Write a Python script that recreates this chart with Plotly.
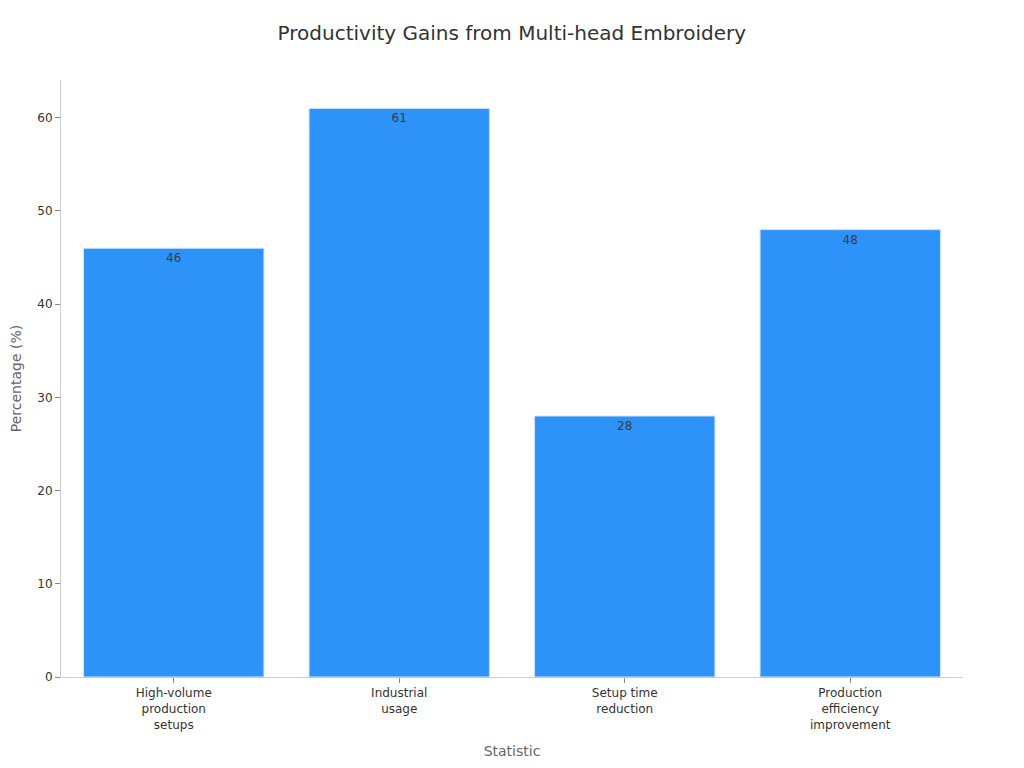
import plotly.graph_objects as go

categories = ["High-volume<br>production<br>setups", "Industrial<br>usage", "Setup time<br>reduction", "Production<br>efficiency<br>improvement"]
values = [46, 61, 28, 48]
labels = ["46", "61", "28", "48"]

fig = go.Figure(go.Bar(
    x=categories, y=values, text=labels,
    textposition="inside", insidetextanchor="end",
    textfont=dict(color="#3a3a3a", size=12, family="DejaVu Sans"),
    marker=dict(color="#2E93F9", line=dict(color="#cfe3fb", width=1)),
    width=0.8,
))

fig.update_layout(
    width=1024, height=768,
    margin=dict(l=53, r=69, t=72, b=99),
    paper_bgcolor="white", plot_bgcolor="white",
    font=dict(family="DejaVu Sans", color="#333333"),
    title=dict(text="Productivity Gains from Multi-head Embroidery", x=0.492, xanchor="center",
               y=0.9674, yanchor="middle", font=dict(size=20, color="#333333")),
    showlegend=False,
    bargap=0.2,
)
fig.update_xaxes(
    title=dict(text="Statistic", font=dict(size=14, color="#666666"), standoff=15),
    showline=True, linecolor="#cccccc", ticks="outside", ticklen=5, tickcolor="#888888",
    tickfont=dict(size=12, color="#333333"), showgrid=False, automargin=False,
)
fig.update_yaxes(
    title=dict(text="Percentage (%)", font=dict(size=14, color="#666666"), standoff=15),
    range=[0, 64.05], dtick=10,
    showline=True, linecolor="#cccccc", ticks="outside", ticklen=5, tickcolor="#888888",
    tickfont=dict(size=12, color="#333333"), showgrid=False, zeroline=False, automargin=False,
)

fig.write_html("out.html")
